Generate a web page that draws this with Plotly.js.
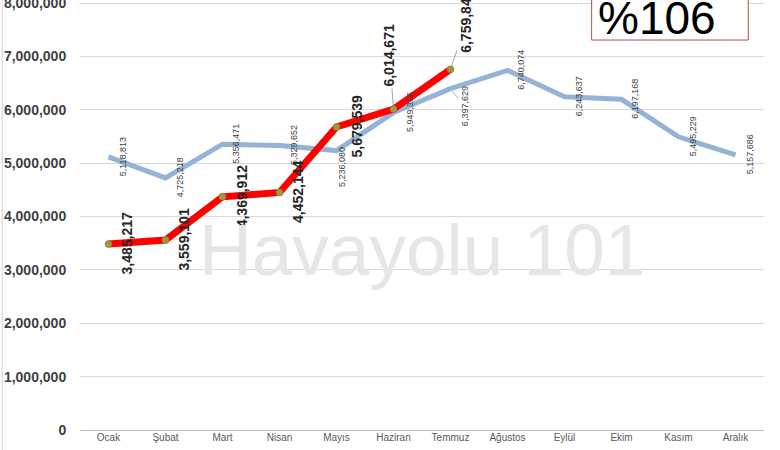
<!DOCTYPE html>
<html>
<head>
<meta charset="utf-8">
<script src="https://cdn.plot.ly/plotly-3.0.1.min.js"></script>
<style>html,body{margin:0;padding:0;background:#fff;}#chart{width:780px;height:450px;}</style>
</head>
<body>
<div id="chart"></div>
<script>
// ---- data ----
const months = ["Ocak","Şubat","Mart","Nisan","Mayıs","Haziran","Temmuz","Ağustos","Eylül","Ekim","Kasım","Aralık"];
const prevYear = [5118813, 4725218, 5356471, 5329652, 5236080, 5949356, 6397629, 6740074, 6243637, 6197168, 5495229, 5157686];
const curYear  = [3485217, 3559101, 4369912, 4452144, 5679539, 6014671, 6759845];
const yTicks = [0, 1000000, 2000000, 3000000, 4000000, 5000000, 6000000, 7000000, 8000000];
const growthText = "%106";
const watermark = "Havayolu 101";

// ---- label placement (styling only) ----
const blueShift = {x: 14, y: 0};
const redShift = {x: 19, y: 0};
const blueOverride = {4: {x: 5, y: -17}, 5: {x: 16, y: 0}, 6: {arrow: true, ax: 14, ay: 18}};
const redOverride = {4: {x: 20, y: 0}, 5: {arrow: true, ax: -4, ay: -53}, 6: {arrow: true, ax: 16, ay: -47}};

const fmt = v => v.toLocaleString('en-US');

const traces = [
  {
    x: months, y: prevYear, type: 'scatter', mode: 'lines',
    line: {color: '#95B3D7', width: 5}, hoverinfo: 'skip'
  },
  {
    x: months.slice(0, curYear.length), y: curYear, type: 'scatter', mode: 'lines+markers',
    line: {color: '#FF0000', width: 7},
    marker: {color: '#9C9A3C', size: 7, line: {color: '#7F7D2E', width: 0.5}},
    hoverinfo: 'skip'
  }
];

const annotations = [];
prevYear.forEach((v, i) => {
  const o = blueOverride[i] || {};
  const a = {
    x: months[i], y: v, xref: 'x', yref: 'y', text: fmt(v), textangle: -90,
    font: {family: 'Liberation Sans, Arial, sans-serif', size: 9, color: '#404040'},
    xanchor: 'center', yanchor: 'middle'
  };
  if (o.arrow) {
    Object.assign(a, {showarrow: true, ax: o.ax, ay: o.ay, arrowhead: 0, arrowwidth: 0.8, arrowcolor: '#A6A6A6', standoff: 3});
  } else {
    Object.assign(a, {showarrow: false, xshift: o.x !== undefined ? o.x : blueShift.x, yshift: o.y !== undefined ? o.y : blueShift.y});
  }
  annotations.push(a);
});
curYear.forEach((v, i) => {
  const o = redOverride[i] || {};
  const a = {
    x: months[i], y: v, xref: 'x', yref: 'y', text: fmt(v), textangle: -90,
    font: {family: 'Liberation Sans, Arial, sans-serif', size: 14, color: '#262626', weight: 'bold'},
    xanchor: 'center', yanchor: 'middle'
  };
  if (o.arrow) {
    Object.assign(a, {showarrow: true, ax: o.ax, ay: o.ay, arrowhead: 0, arrowwidth: 0.8, arrowcolor: '#8C8C8C', standoff: 4});
  } else {
    Object.assign(a, {showarrow: false, xshift: o.x !== undefined ? o.x : redShift.x, yshift: o.y !== undefined ? o.y : redShift.y});
  }
  annotations.push(a);
});
// watermark
annotations.push({
  xref: 'paper', yref: 'paper', x: 0.5, y: 0.42, text: watermark, showarrow: false,
  font: {family: 'Liberation Sans, Arial, sans-serif', size: 73, color: '#E6E6E6'},
  xanchor: 'center', yanchor: 'middle'
});
// growth box text
annotations.push({
  xref: 'paper', yref: 'paper', x: 0.843, y: 0.96, text: growthText, showarrow: false,
  font: {family: 'Liberation Sans, Arial, sans-serif', size: 46, color: '#000000'},
  xanchor: 'center', yanchor: 'middle'
});

const layout = {
  width: 780, height: 450,
  margin: {l: 80, r: 16, t: 1, b: 20},
  paper_bgcolor: '#FFFFFF', plot_bgcolor: '#FFFFFF',
  showlegend: false,
  xaxis: {
    type: 'category', range: [-0.5, 11.5], showgrid: false, zeroline: false,
    showline: false, ticks: '',
    tickfont: {family: 'Liberation Sans Narrow, Arial Narrow, Liberation Sans, sans-serif', size: 10, color: '#595959'}
  },
  yaxis: {
    range: [0, 8040000], tickvals: yTicks, ticktext: yTicks.map(fmt),
    ticklabeloverflow: 'allow',
    showgrid: true, gridcolor: '#D9D9D9', gridwidth: 1,
    zeroline: true, zerolinecolor: '#BFBFBF', zerolinewidth: 1,
    ticks: 'outside', ticklen: 10, tickcolor: 'rgba(0,0,0,0)',
    tickfont: {family: 'Liberation Sans, Arial, sans-serif', size: 14, color: '#404040', weight: 'bold'}
  },
  shapes: [
    {type: 'rect', xref: 'paper', yref: 'paper', x0: 0.748, x1: 0.977, y0: 0.909, y1: 1.03,
     line: {color: '#B0504D', width: 1}, fillcolor: '#FFFFFF', layer: 'above'},
    {type: 'line', xref: 'paper', yref: 'paper', x0: -0.1137, x1: -0.1137, y0: -0.05, y1: 1.02,
     line: {color: '#D0D0D0', width: 1}}
  ],
  annotations: annotations
};

Plotly.newPlot('chart', traces, layout, {displayModeBar: false, staticPlot: true});
</script>
</body>
</html>
